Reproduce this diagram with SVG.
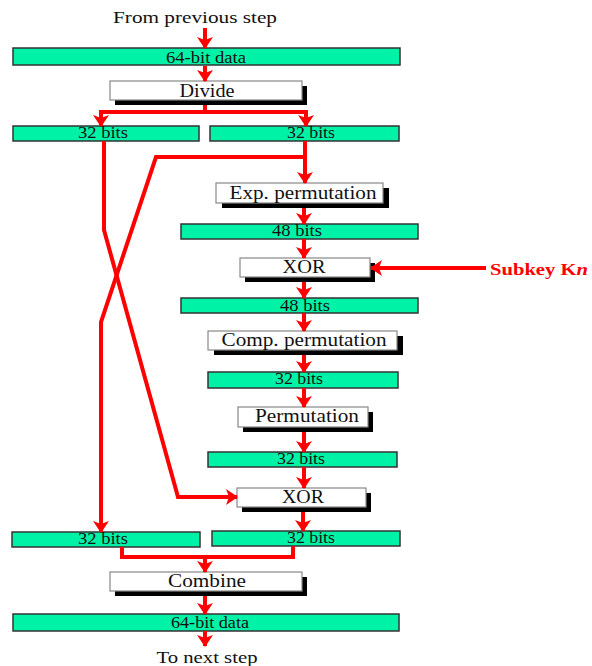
<svg xmlns="http://www.w3.org/2000/svg" width="592" height="666" viewBox="0 0 592 666">
  <style>
    .bar { fill: #00F2A6; stroke: #333; stroke-width: 1.5; }
    .box { fill: #fff; stroke: #888; stroke-width: 1.2; }
    .shadow { fill: #000; }
    .t { font-family: "Liberation Serif", "Times New Roman", serif; fill: #111; text-anchor: middle; }
    .bt { font-size: 16px; }
    .lt { font-size: 18px; }
    .cap { font-size: 17px; }
    .wire { fill: none; stroke: #FF0000; stroke-width: 4; stroke-linejoin: miter; }
  </style>
  <defs>
    <marker id="ah" viewBox="0 0 12 16" refX="11" refY="8" markerWidth="12" markerHeight="16" markerUnits="userSpaceOnUse" orient="auto">
      <path d="M0,0 L12,8 L0,16 L3,8 z" fill="#FF0000"/>
    </marker>
  </defs>

  <rect width="592" height="666" fill="#fff"/>

  <g id="label-from">
    <text class="t cap" x="195" y="23" textLength="164" lengthAdjust="spacingAndGlyphs">From previous step</text>
  </g>

  <g id="data-in">
    <rect class="bar" x="13" y="48" width="387" height="17"/>
    <text class="t bt" x="206" y="63" textLength="80" lengthAdjust="spacingAndGlyphs">64-bit data</text>
  </g>

  <g id="divide">
    <rect class="shadow" x="115" y="86" width="192" height="19"/>
    <rect class="box" x="110" y="81" width="192" height="19"/>
    <text class="t lt" x="207" y="97" textLength="55" lengthAdjust="spacingAndGlyphs">Divide</text>
  </g>

  <g id="left-32-top">
    <rect class="bar" x="13" y="126" width="186" height="15"/>
    <text class="t bt" x="103" y="138" textLength="50" lengthAdjust="spacingAndGlyphs">32 bits</text>
  </g>

  <g id="right-32-top">
    <rect class="bar" x="210" y="126" width="189" height="15"/>
    <text class="t bt" x="311" y="138" textLength="48" lengthAdjust="spacingAndGlyphs">32 bits</text>
  </g>

  <g id="exp-perm">
    <rect class="shadow" x="222" y="188" width="167" height="20"/>
    <rect class="box" x="216" y="183" width="167" height="20"/>
    <text class="t lt" x="303" y="199" textLength="147" lengthAdjust="spacingAndGlyphs">Exp. permutation</text>
  </g>

  <g id="bits-48-a">
    <rect class="bar" x="181" y="224" width="237" height="15"/>
    <text class="t bt" x="297" y="236" textLength="50" lengthAdjust="spacingAndGlyphs">48 bits</text>
  </g>

  <g id="xor-key">
    <rect class="shadow" x="245" y="263" width="130" height="19"/>
    <rect class="box" x="240" y="258" width="130" height="19"/>
    <text class="t lt" x="304" y="273" textLength="43" lengthAdjust="spacingAndGlyphs">XOR</text>
  </g>

  <g id="subkey">
    <text x="490" y="275" font-family="Liberation Serif, Times New Roman, serif" font-size="17" font-weight="bold" fill="#FF0000" textLength="98" lengthAdjust="spacingAndGlyphs">Subkey K<tspan font-style="italic">n</tspan></text>
  </g>

  <g id="bits-48-b">
    <rect class="bar" x="181" y="298" width="237" height="15"/>
    <text class="t bt" x="305" y="311" textLength="50" lengthAdjust="spacingAndGlyphs">48 bits</text>
  </g>

  <g id="comp-perm">
    <rect class="shadow" x="214" y="336" width="189" height="19"/>
    <rect class="box" x="208" y="331" width="189" height="19"/>
    <text class="t lt" x="304" y="346" textLength="165" lengthAdjust="spacingAndGlyphs">Comp. permutation</text>
  </g>

  <g id="bits-32-c">
    <rect class="bar" x="208" y="372" width="190" height="16"/>
    <text class="t bt" x="299" y="384" textLength="48" lengthAdjust="spacingAndGlyphs">32 bits</text>
  </g>

  <g id="permutation">
    <rect class="shadow" x="243" y="412" width="130" height="20"/>
    <rect class="box" x="238" y="407" width="130" height="20"/>
    <text class="t lt" x="307" y="422" textLength="104" lengthAdjust="spacingAndGlyphs">Permutation</text>
  </g>

  <g id="bits-32-d">
    <rect class="bar" x="208" y="452" width="189" height="15"/>
    <text class="t bt" x="301" y="464" textLength="48" lengthAdjust="spacingAndGlyphs">32 bits</text>
  </g>

  <g id="xor-left">
    <rect class="shadow" x="242" y="493" width="129" height="19"/>
    <rect class="box" x="237" y="488" width="129" height="19"/>
    <text class="t lt" x="303" y="503" textLength="42" lengthAdjust="spacingAndGlyphs">XOR</text>
  </g>

  <g id="left-32-bottom">
    <rect class="bar" x="12" y="532" width="188" height="15"/>
    <text class="t bt" x="103" y="544" textLength="50" lengthAdjust="spacingAndGlyphs">32 bits</text>
  </g>

  <g id="right-32-bottom">
    <rect class="bar" x="212" y="531" width="188" height="15"/>
    <text class="t bt" x="311" y="543" textLength="48" lengthAdjust="spacingAndGlyphs">32 bits</text>
  </g>

  <g id="combine">
    <rect class="shadow" x="115" y="577" width="192" height="19"/>
    <rect class="box" x="110" y="572" width="192" height="19"/>
    <text class="t lt" x="207" y="587" textLength="78" lengthAdjust="spacingAndGlyphs">Combine</text>
  </g>

  <g id="data-out">
    <rect class="bar" x="13" y="614" width="386" height="17"/>
    <text class="t bt" x="210" y="628" textLength="78" lengthAdjust="spacingAndGlyphs">64-bit data</text>
  </g>

  <g id="label-to">
    <text class="t cap" x="207" y="663" textLength="101" lengthAdjust="spacingAndGlyphs">To next step</text>
  </g>

  <g id="connectors">
    <path class="wire" d="M205,28 V48" marker-end="url(#ah)"/>
    <path class="wire" d="M205,66 V81" marker-end="url(#ah)"/>
    <path class="wire" d="M205,105 V112"/>
    <path class="wire" d="M205,112 H101 V126" marker-end="url(#ah)"/>
    <path class="wire" d="M205,112 H306 V126" marker-end="url(#ah)"/>
    <path class="wire" d="M305,141 V183" marker-end="url(#ah)"/>
    <path class="wire" d="M305,157 H156 L101,322 V532" marker-end="url(#ah)"/>
    <path class="wire" d="M104,141 V230 L178,497 H237" marker-end="url(#ah)"/>
    <path class="wire" d="M304,208 V224" marker-end="url(#ah)"/>
    <path class="wire" d="M304,239 V258" marker-end="url(#ah)"/>
    <path class="wire" d="M486,268 H371" marker-end="url(#ah)"/>
    <path class="wire" d="M304,282 V298" marker-end="url(#ah)"/>
    <path class="wire" d="M304,313 V331" marker-end="url(#ah)"/>
    <path class="wire" d="M304,355 V372" marker-end="url(#ah)"/>
    <path class="wire" d="M304,388 V407" marker-end="url(#ah)"/>
    <path class="wire" d="M304,432 V452" marker-end="url(#ah)"/>
    <path class="wire" d="M304,467 V488" marker-end="url(#ah)"/>
    <path class="wire" d="M303,512 V531" marker-end="url(#ah)"/>
    <path class="wire" d="M122,547 V557 H293 V546"/>
    <path class="wire" d="M205,557 V572" marker-end="url(#ah)"/>
    <path class="wire" d="M205,596 V614" marker-end="url(#ah)"/>
    <path class="wire" d="M205,631 V646" marker-end="url(#ah)"/>
  </g>
</svg>
